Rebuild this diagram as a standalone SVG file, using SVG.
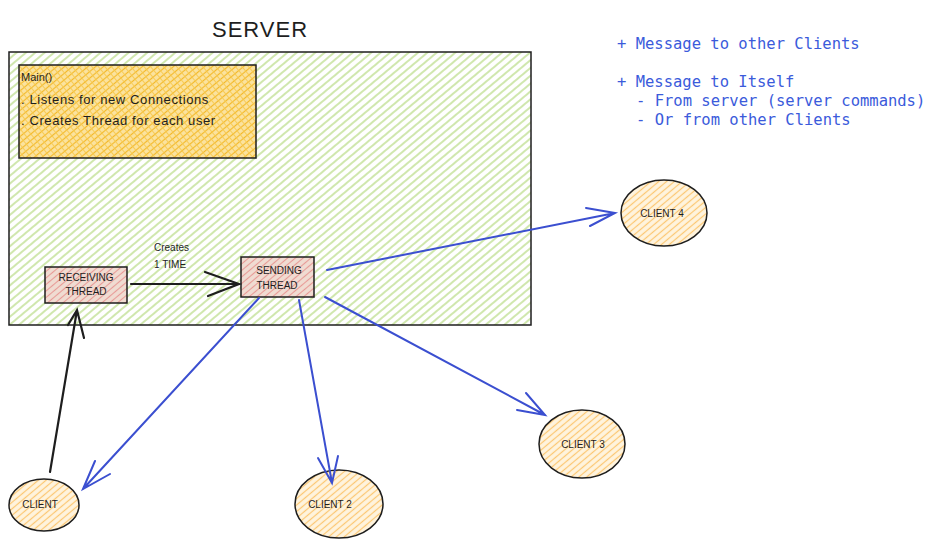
<svg xmlns="http://www.w3.org/2000/svg" width="936" height="551" viewBox="0 0 936 551">
<defs>
<pattern id="hg" patternUnits="userSpaceOnUse" width="6" height="6" patternTransform="rotate(-40)"><line x1="0" y1="3" x2="6" y2="3" stroke="#a9d36b" stroke-width="1.1"/></pattern>
<pattern id="hy" patternUnits="userSpaceOnUse" width="5" height="5" patternTransform="rotate(-40)"><rect width="5" height="5" fill="#fbe3a0"/><line x1="0" y1="2.5" x2="5" y2="2.5" stroke="#f4b92a" stroke-width="1.2"/><line x1="2.5" y1="0" x2="2.5" y2="5" stroke="#f6c84e" stroke-width="0.9"/></pattern>
<pattern id="hp" patternUnits="userSpaceOnUse" width="5" height="5" patternTransform="rotate(-40)"><rect width="5" height="5" fill="#f0dcd2"/><line x1="0" y1="2.5" x2="5" y2="2.5" stroke="#e89a96" stroke-width="1.1"/></pattern>
<pattern id="ho" patternUnits="userSpaceOnUse" width="5" height="5" patternTransform="rotate(-40)"><rect width="5" height="5" fill="#fff4de"/><line x1="0" y1="2.5" x2="5" y2="2.5" stroke="#fcc772" stroke-width="1.2"/></pattern>
</defs>
<style>
.lbl{font-family:"Liberation Sans",Arial,sans-serif;fill:#1e1e1e}
.sm{font-size:10px}
.mt{font-size:13px;letter-spacing:0.6px}
.note{font-family:"DejaVu Sans Mono","Liberation Mono",monospace;font-size:15.5px;fill:#3b5bdb}
.ed{stroke:#1e1e1e;stroke-width:1.5}
.blue{fill:none;stroke:#3b4fd0;stroke-width:2;stroke-linecap:round}
.blk{fill:none;stroke:#1e1e1e;stroke-width:2.2;stroke-linecap:round}
</style>
<rect width="936" height="551" fill="#ffffff"/>
<text class="lbl" x="260" y="37" font-size="22" text-anchor="middle" letter-spacing="1">SERVER</text>
<g id="server">
<rect x="9" y="52" width="522" height="273" fill="url(#hg)" class="ed"/>
</g>
<g id="main">
<rect x="19" y="65" width="237" height="93" fill="url(#hy)" class="ed"/>
<text class="lbl" x="21" y="81" font-size="11">Main()</text>
<text class="lbl mt" x="21" y="104">. Listens for new Connections</text>
<text class="lbl mt" x="21" y="125">. Creates Thread for each user</text>
</g>
<g id="receiving">
<rect x="45" y="267" width="82" height="36" fill="url(#hp)" class="ed"/>
<text class="lbl sm" x="86" y="281" text-anchor="middle">RECEIVING</text>
<text class="lbl sm" x="86" y="295" text-anchor="middle">THREAD</text>
</g>
<g id="sending">
<rect x="241" y="257" width="73" height="40" fill="url(#hp)" class="ed"/>
<text class="lbl sm" x="279" y="274" text-anchor="middle">SENDING</text>
<text class="lbl sm" x="277" y="289" text-anchor="middle">THREAD</text>
</g>
<g id="client1">
<ellipse cx="44" cy="505" rx="35" ry="26" fill="url(#ho)" class="ed"/>
<text class="lbl sm" x="40" y="508" text-anchor="middle">CLIENT</text>
</g>
<g id="client2">
<ellipse cx="339" cy="504" rx="44" ry="34" fill="url(#ho)" class="ed"/>
<text class="lbl sm" x="330" y="508" text-anchor="middle">CLIENT 2</text>
</g>
<g id="client3">
<ellipse cx="582" cy="444" rx="43" ry="34" fill="url(#ho)" class="ed"/>
<text class="lbl sm" x="583" y="448" text-anchor="middle">CLIENT 3</text>
</g>
<g id="client4">
<ellipse cx="664" cy="213" rx="43" ry="33" fill="url(#ho)" class="ed"/>
<text class="lbl sm" x="662" y="217" text-anchor="middle">CLIENT 4</text>
</g>
<g id="connectors">
<path class="blk" d="M131 284 L239 284 M205 272 L239 284 L208 296"/>
<path class="blk" d="M50 472 L77 310 M68 325 L77 310 L84 338"/>
<path class="blue" stroke-width="1.2" d="M259 298 L83 489 M95 461 L83 489 L110 474"/>
<path class="blue" d="M299 300 L332 483 M318 458 L332 483 L338 456"/>
<path class="blue" d="M325 297 L545 415 M517 410 L545 415 L526 393"/>
<path class="blue" d="M327 270 L615 213 M586 208 L615 213 L590 226"/>
<text class="lbl sm" x="154" y="251">Creates</text>
<text class="lbl sm" x="154" y="268">1 TIME</text>
</g>
<g id="notes">
<text class="note" x="617" y="49">+ Message to other Clients</text>
<text class="note" x="617" y="87">+ Message to Itself</text>
<text class="note" x="636" y="106">- From server (server commands)</text>
<text class="note" x="636" y="125">- Or from other Clients</text>
</g>
</svg>
